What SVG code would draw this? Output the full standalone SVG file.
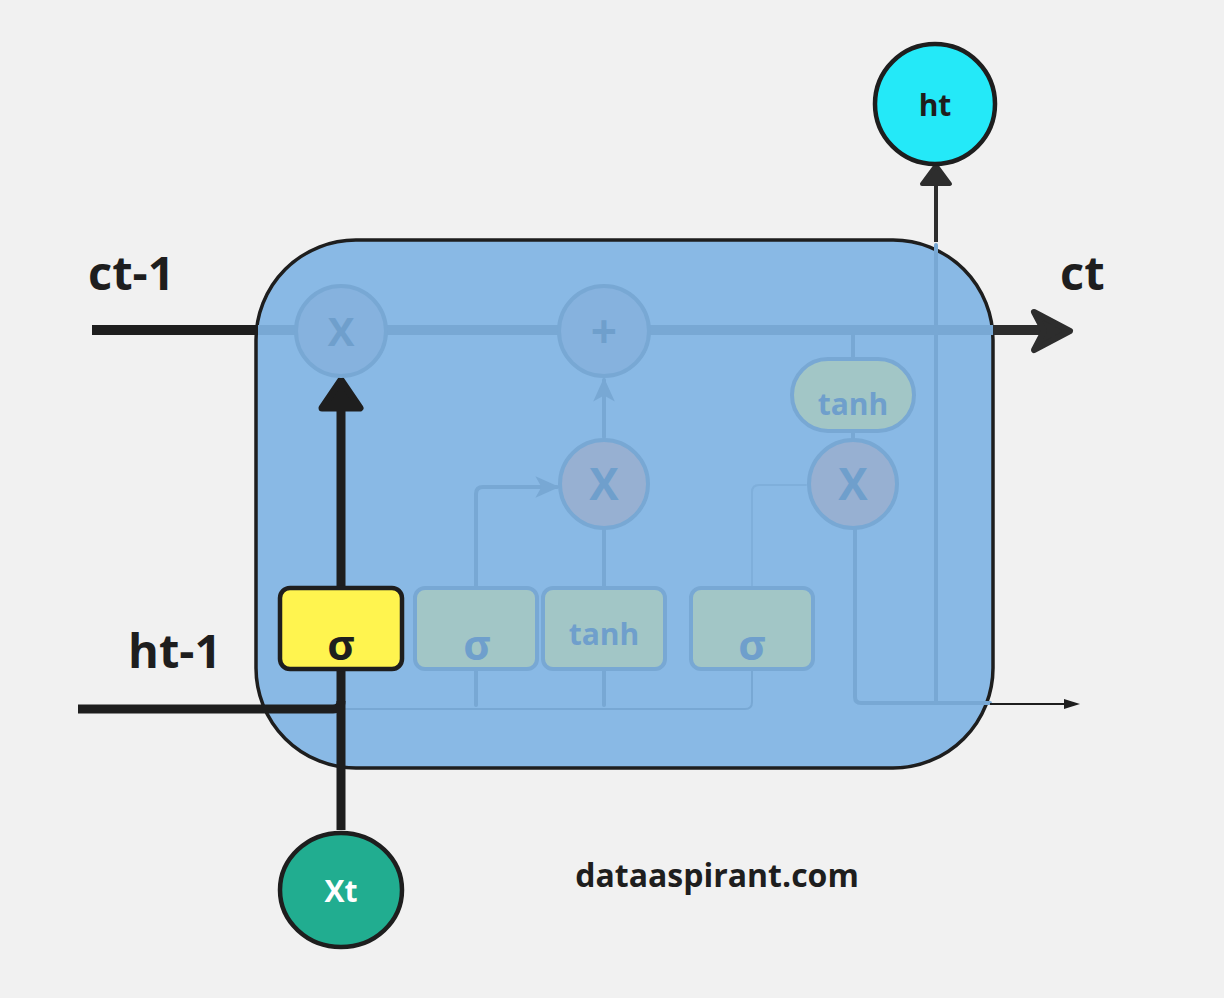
<svg xmlns="http://www.w3.org/2000/svg" width="1224" height="998" viewBox="0 0 1224 998">
<defs>
<style>
text{font-family:"Open Sans","Noto Sans","Liberation Sans",sans-serif;font-weight:bold;text-anchor:middle}
.lbl{font-size:47px;fill:#1e1e1e;text-anchor:start}
.fl{fill:none;stroke:#78a8d4;stroke-linecap:round;stroke-linejoin:round}
.fc{stroke:#78a8d4;stroke-width:4}
.ft{fill:#6f9fcc}
.fb{fill:#a2c6c6;stroke:#78a8d4;stroke-width:4}
.blk{fill:none;stroke:#1e1e1e;stroke-width:9}
</style>
<marker id="fa" viewBox="0 0 10 10" refX="9" refY="5" markerWidth="24" markerHeight="24" markerUnits="userSpaceOnUse" orient="auto"><path d="M0,0.5 L10,5 L0,9.5 L2.5,5 Z" fill="#78a8d4"/></marker>
</defs>
<rect width="1224" height="998" fill="#f1f1f1"/>

<g id="cell">
<rect x="256" y="240" width="737" height="528" rx="100" fill="#89b9e5" stroke="#1e1e1e" stroke-width="3.5"/>
</g>

<g id="connectors">
<line x1="92" y1="330" x2="258" y2="330" stroke="#1e1e1e" stroke-width="10"/>
<line x1="258" y1="330" x2="993" y2="330" stroke="#78a8d4" stroke-width="10"/>
<line x1="993" y1="330" x2="1050" y2="330" stroke="#2d2d2d" stroke-width="10"/>
<path d="M1034,312 L1070,331 L1034,350 L1044,331 Z" fill="#2d2d2d" stroke="#2d2d2d" stroke-width="6" stroke-linejoin="round"/>
<path class="fl" d="M604,437 L604,380" stroke-width="4" marker-end="url(#fa)"/>
<path class="fl" d="M476,587 L476,494 Q476,487 483,487 L557,487" stroke-width="4" marker-end="url(#fa)"/>
<path class="fl" d="M604,587 L604,530" stroke-width="4"/>
<path class="fl" d="M752,587 L752,492 Q752,485 759,485 L806,485" stroke-width="2" stroke-opacity="0.6"/>
<path class="fl" d="M853,335 L853,358" stroke-width="4"/>
<path class="fl" d="M853,432 L853,440" stroke-width="4"/>
<path class="fl" d="M476,670 L476,705" stroke-width="4"/>
<path class="fl" d="M604,670 L604,705" stroke-width="4"/>
<path class="fl" d="M345,709 L745,709 Q752,709 752,702 L752,670" stroke-width="2"/>
<path class="fl" d="M855,528 L855,697 Q855,703 861,703 L990,703" stroke-width="4"/>
<path class="fl" d="M936,703 L936,245" stroke-width="4"/>
<line x1="990" y1="704" x2="1070" y2="704" stroke="#1e1e1e" stroke-width="2"/>
<path d="M1064,699 L1080,704 L1064,709 Z" fill="#1e1e1e"/>
<line x1="936" y1="242" x2="936" y2="180" stroke="#2d2d2d" stroke-width="4"/>
<path d="M922,184 L936,165 L950,184 Z" fill="#2d2d2d" stroke="#2d2d2d" stroke-width="4" stroke-linejoin="round"/>
<path class="blk" d="M78,709 L333,709 Q341,709 341,701"/>
<line x1="341" y1="830" x2="341" y2="405" stroke="#1e1e1e" stroke-width="9"/>
<path d="M322,408 L341,380 L360,408 Z" fill="#1e1e1e" stroke="#1e1e1e" stroke-width="7" stroke-linejoin="round"/>
</g>

<g id="forget-mult">
<circle cx="341" cy="331" r="45" fill="#86b2de" class="fc"/>
<text x="341" y="346" font-size="40" class="ft">X</text>
</g>
<g id="add">
<circle cx="604" cy="331" r="45" fill="#86b2de" class="fc"/>
<text x="604" y="348" font-size="46" font-weight="normal" class="ft">+</text>
</g>
<g id="input-mult">
<circle cx="604" cy="484" r="44" fill="#97b0d2" class="fc"/>
<text x="604" y="500" font-size="44" class="ft">X</text>
</g>
<g id="output-mult">
<circle cx="853" cy="484" r="44" fill="#97b0d2" class="fc"/>
<text x="853" y="500" font-size="44" class="ft">X</text>
</g>
<g id="tanh-out">
<rect x="792" y="359" width="122" height="72" rx="36" class="fb"/>
<text x="853" y="415" font-size="30" class="ft">tanh</text>
</g>
<g id="sigma-input">
<rect x="415" y="588" width="122" height="81" rx="10" class="fb"/>
<text x="477" y="660" font-size="42" class="ft">σ</text>
</g>
<g id="tanh-input">
<rect x="543" y="588" width="122" height="81" rx="10" class="fb"/>
<text x="604" y="645" font-size="30" class="ft">tanh</text>
</g>
<g id="sigma-output">
<rect x="691" y="588" width="122" height="81" rx="10" class="fb"/>
<text x="752" y="660" font-size="42" class="ft">σ</text>
</g>
<g id="sigma-forget">
<rect x="280" y="588" width="122" height="81" rx="10" fill="#fff44f" stroke="#1e1e1e" stroke-width="4.5"/>
<text x="341" y="660" font-size="42" fill="#1e1e1e">σ</text>
</g>

<g id="ht">
<circle cx="935" cy="104" r="60" fill="#24e9f8" stroke="#1e1e1e" stroke-width="4.5"/>
<text x="935" y="116" font-size="30" fill="#1e1e1e">ht</text>
</g>
<g id="xt">
<ellipse cx="341" cy="890" rx="61" ry="57" fill="#21ad90" stroke="#1e1e1e" stroke-width="4.5"/>
<text x="341" y="902" font-size="30" fill="#ffffff">Xt</text>
</g>

<g id="labels">
<text x="88" y="290" class="lbl">ct-1</text>
<text x="1060" y="290" class="lbl">ct</text>
<text x="128" y="668" class="lbl">ht-1</text>
<text x="717" y="887" font-size="32" fill="#1e1e1e">dataaspirant.com</text>
</g>
</svg>
